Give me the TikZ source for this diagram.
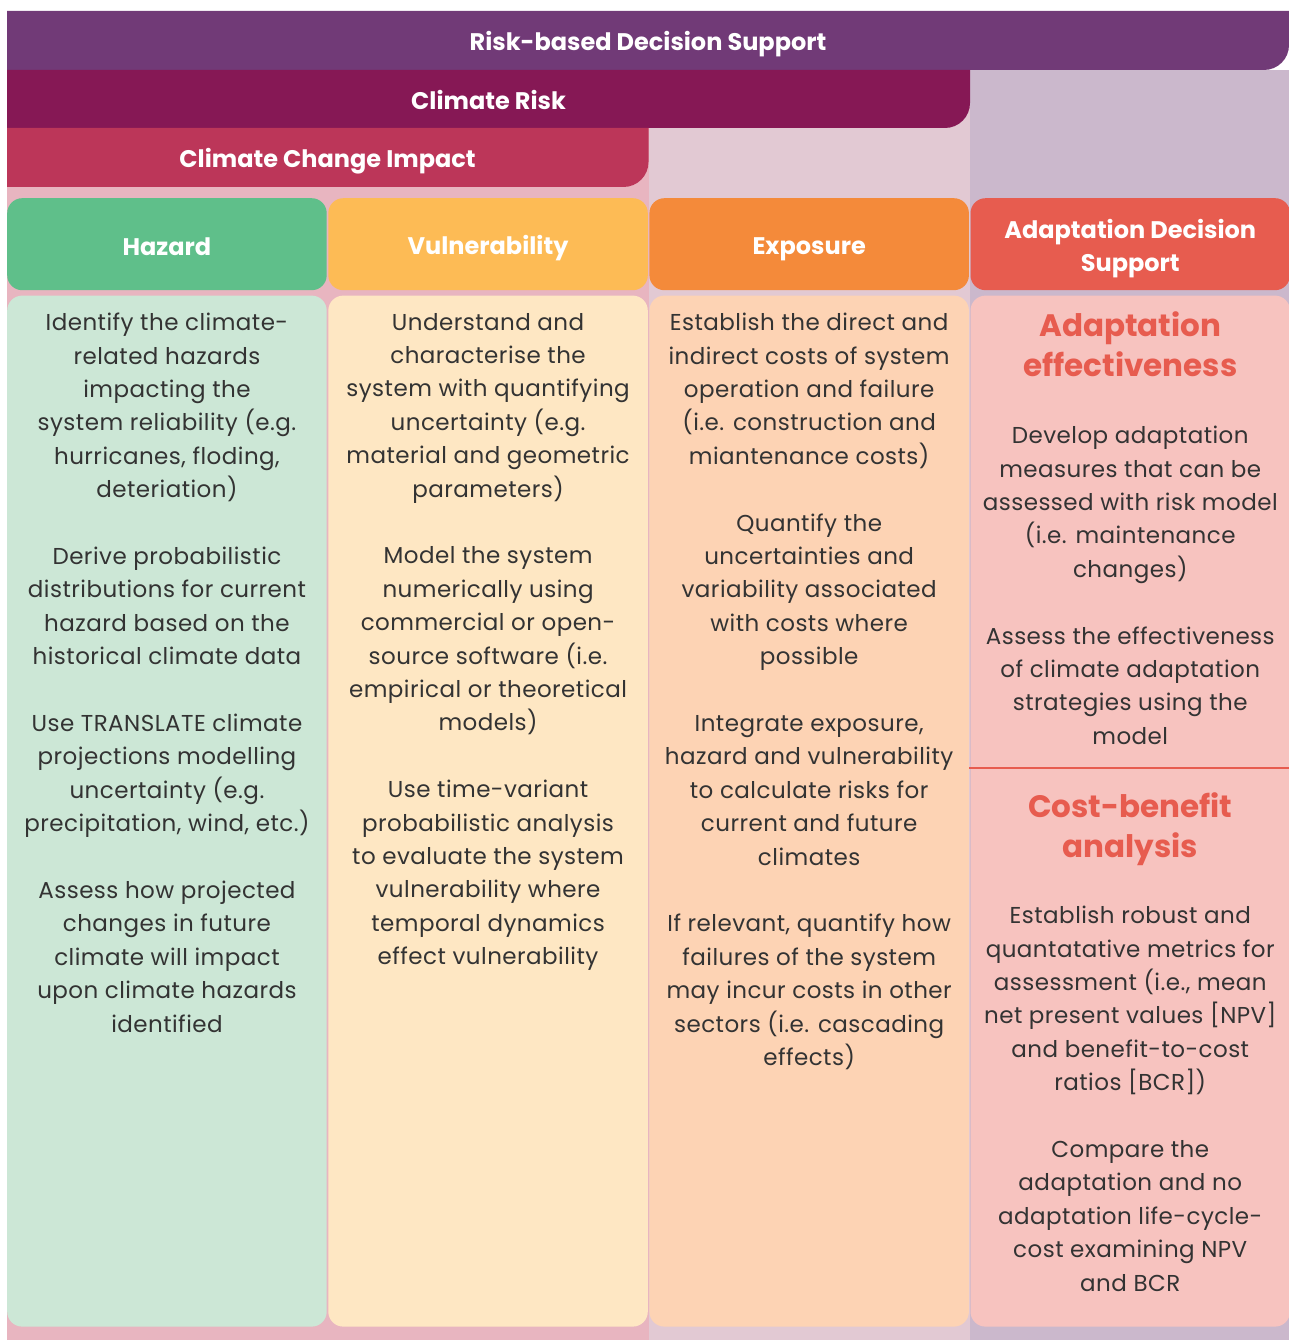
\documentclass[tikz,border=0pt]{standalone}
\usepackage{fontspec}
\setmainfont{Poppins}
\newfontfamily\bodyfam{Poppins}[LetterSpace=2]
\usepackage{xcolor}
\usepackage{tikz}
\usetikzlibrary{positioning}

\definecolor{rdscol}{HTML}{713A77}
\definecolor{riskcol}{HTML}{861855}
\definecolor{ccicol}{HTML}{BC3659}
\definecolor{bgone}{HTML}{E8B5C0}
\definecolor{bgtwo}{HTML}{E2C9D3}
\definecolor{bgthree}{HTML}{CBB8CC}
\definecolor{hazhead}{HTML}{5FBF8A}
\definecolor{hazbody}{HTML}{CCE7D6}
\definecolor{vulhead}{HTML}{FDBB55}
\definecolor{vulbody}{HTML}{FEE7C3}
\definecolor{exphead}{HTML}{F48A3A}
\definecolor{expbody}{HTML}{FDD3B4}
\definecolor{adahead}{HTML}{E75C4F}
\definecolor{adabody}{HTML}{F7C3BF}
\definecolor{txtcol}{HTML}{333333}

\newcommand{\bodyfont}{\bodyfam\fontsize{23}{33.4}\selectfont}
\newcommand{\headfont}{\fontsize{24}{33}\selectfont\bfseries}
\newcommand{\titlefont}{\fontsize{31}{40}\selectfont\bfseries}
\newcommand{\hstrut}{\rule[-4pt]{0pt}{30pt}}
\newcommand{\tallstrut}{\rule[-4pt]{0pt}{65pt}}

\begin{document}
\begin{tikzpicture}[x=1pt,y=-1pt,
  hdr/.style={rounded corners=15pt,minimum width=319.5pt,minimum height=92pt,inner sep=0pt,
    text=white,font=\headfont,align=center,
    execute at begin node=\hstrut,execute at end node=\hstrut},
  col/.style={rounded corners=15pt,minimum width=319.5pt,minimum height=1031pt,inner sep=0pt},
  body/.style={font=\bodyfont,align=center,inner sep=0pt,text=txtcol,execute at begin node=\strut},
  ttl/.style={font=\titlefont,align=center,inner sep=0pt,text=adahead,execute at begin node=\strut},
  bartxt/.style={font=\headfont,text=white,inner sep=0pt,anchor=base}
]
\useasboundingbox (0,0) rectangle (1289,1340);

% column backgrounds
\fill[bgone] (7,70) rectangle (648.5,1340);
\fill[bgtwo] (648.5,70) rectangle (970,1340);
\fill[bgthree] (970,70) rectangle (1289,1340);

% stacked bars
\fill[rdscol] (7,11) -- (1289,11) -- (1289,45) arc[start angle=0,end angle=90,radius=25] -- (7,70) -- cycle;
\node[bartxt] (rds) at (648,51) {Risk-based Decision Support};
\fill[riskcol] (7,70) -- (970,70) -- (970,103) arc[start angle=0,end angle=90,radius=25] -- (7,128) -- cycle;
\node[bartxt] (risk) at (488.5,110) {Climate Risk};
\fill[ccicol] (7,128) -- (648.5,128) -- (648.5,162) arc[start angle=0,end angle=90,radius=25] -- (7,187) -- cycle;
\node[bartxt] (cci) at (327.5,168) {Climate Change Impact};

% column heads
\node[hdr,fill=hazhead,anchor=north west] (hazhd) at (7,198) {Hazard};
\node[hdr,fill=vulhead,right=1.2pt of hazhd] (vulhd) {Vulnerability};
\node[hdr,fill=exphead,right=1.2pt of vulhd] (exphd) {Exposure};
\node[hdr,fill=adahead,right=1.2pt of exphd,
  execute at end node=\tallstrut] (adahd) {Adaptation Decision\\Support};

% column bodies
\node[col,fill=hazbody,below=5pt of hazhd] (hazbox) {};
\node[col,fill=vulbody,below=5pt of vulhd] (vulbox) {};
\node[col,fill=expbody,below=5pt of exphd] (expbox) {};
\node[col,fill=adabody,below=5pt of adahd] (adabox) {};

\node[body,below=17.5pt of hazbox.north] (haztxt) {Identify the climate-\\related hazards\\impacting the\\system reliability (e.g.\\hurricanes, floding,\\deteriation)\\[33.4pt]
Derive probabilistic\\distributions for current\\hazard based on the\\historical climate data\\[33.4pt]
Use TRANSLATE climate\\projections modelling\\uncertainty (e.g.\\precipitation, wind, etc.)\\[33.4pt]
Assess how projected\\changes in future\\climate will impact\\upon climate hazards\\identified};

\node[body,below=17.5pt of vulbox.north] (vultxt) {Understand and\\characterise the\\system with quantifying\\uncertainty (e.g.\\material and geometric\\parameters)\\[33.4pt]
Model the system\\numerically using\\commercial or open-\\source software (i.e.\\empirical or theoretical\\models)\\[33.4pt]
Use time-variant\\probabilistic analysis\\to evaluate the system\\vulnerability where\\temporal dynamics\\effect vulnerability};

\node[body,below=17.5pt of expbox.north] (exptxt) {Establish the direct and\\indirect costs of system\\operation and failure\\(i.e. construction and\\miantenance costs)\\[33.4pt]
Quantify the\\uncertainties and\\variability associated\\with costs where\\possible\\[33.4pt]
Integrate exposure,\\hazard and vulnerability\\to calculate risks for\\current and future\\climates\\[33.4pt]
If relevant, quantify how\\failures of the system\\may incur costs in other\\sectors (i.e. cascading\\effects)};

% adaptation column, two parts
\node[ttl,below=16pt of adabox.north] (effttl) {Adaptation\\effectiveness};
\node[body,below=130.5pt of adabox.north] (efftxt) {Develop adaptation\\measures that can be\\assessed with risk model\\(i.e. maintenance\\changes)\\[33.4pt]
Assess the effectiveness\\of climate adaptation\\strategies using the\\model};
\coordinate (divl) at (969.1,768);
\coordinate (divr) at (1288.6,768);
\draw[adahead,line width=2.5pt] (divl) -- (divr);
\node[ttl,below=497pt of adabox.north] (cbattl) {Cost-benefit\\analysis};
\node[body,below=610.5pt of adabox.north] (cbatxt) {Establish robust and\\quantatative metrics for\\assessment (i.e., mean\\net present values [NPV]\\and benefit-to-cost\\ratios [BCR])\\[33.4pt]
Compare the\\adaptation and no\\adaptation life-cycle-\\cost examining NPV\\and BCR};
\end{tikzpicture}
\end{document}
